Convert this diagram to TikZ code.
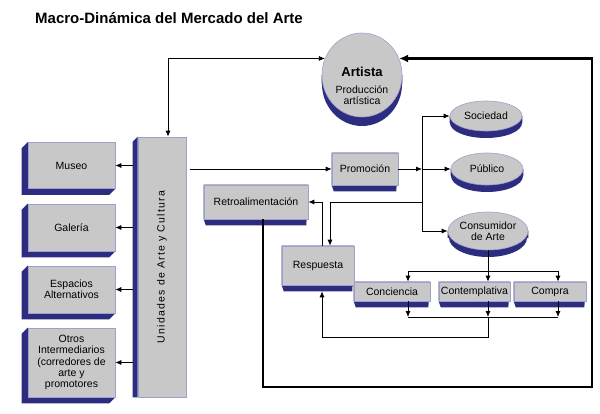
\documentclass[tikz,border=0pt]{standalone}
\usepackage{fontspec}
\setmainfont{Liberation Sans}
\usetikzlibrary{arrows.meta,shapes.geometric,calc}
\definecolor{boxgray}{RGB}{200,200,200}
\definecolor{boxline}{RGB}{160,160,205}
\definecolor{navy}{RGB}{44,44,128}
\pgfdeclarelayer{background}
\pgfsetlayers{background,main}

\begin{document}
\begin{tikzpicture}[
  x=1pt, y=-1pt,
  every node/.style={font=\fontsize{10.5}{11.3}\selectfont, align=center, inner sep=0pt},
  box/.style={rectangle, fill=boxgray, draw=boxline, line width=0.6pt},
  oval/.style={ellipse, fill=boxgray, draw=boxline, line width=0.6pt},
  conn/.style={draw, line width=0.8pt, -{Latex[length=6pt,width=5pt]}},
  back/.style={draw, line width=2.6pt, -{Latex[length=9pt,width=8pt]}} % lazo grueso
]
\useasboundingbox (0,0) rectangle (600,414);

\node[anchor=west, font=\fontsize{15}{17}\selectfont\bfseries] (title) at (35,18) {Macro-Dinámica del Mercado del Arte};

% ovalos
\node[oval, minimum width=80, minimum height=84] (artista) at (362,75) {};
\node (artistatxt) at (362,86) {{\fontsize{13}{14}\selectfont\bfseries Artista}\\[5pt]Producción\\artística};
\node[oval, minimum width=72, minimum height=30] (sociedad) at (486,116) {Sociedad};
\node[oval, minimum width=72, minimum height=32] (publico) at (487,169) {Público};
\node[oval, minimum width=78, minimum height=38] (consumidor) at (488,231) {Consumidor\\de Arte};

% columna izquierda
\node[box, minimum width=87, minimum height=46] (museo) at (71.5,165.5) {Museo};
\node[box, minimum width=87, minimum height=47] (galeria) at (71.5,227.5) {Galería};
\node[box, minimum width=87, minimum height=47] (espacios) at (71.5,289.5) {Espacios\\Alternativos};
\node[box, minimum width=87, minimum height=69] (otros) at (71.5,362.5) {Otros\\Intermediarios\\(corredores de\\arte y\\promotores};
\node[box, minimum width=48, minimum height=260] (unidades) at (162,267) {};
\node[rotate=90] (unidadestxt) at (unidades.center) {\addfontfeatures{LetterSpace=12}Unidades de Arte y Cultura};

% cajas centrales
\node[box, minimum width=66, minimum height=32] (promocion) at (365,169) {Promoción};
\node[box, minimum width=104, minimum height=34] (retro) at (256,202) {Retroalimentación};
\node[box, minimum width=72, minimum height=39] (respuesta) at (318,265.5) {Respuesta};
\node[box, minimum width=76, minimum height=19] (conciencia) at (392,291.5) {Conciencia};
\node[box, minimum width=71, minimum height=19] (contemplativa) at (474.5,291.5) {Contemplativa};
\node[box, minimum width=72, minimum height=19] (compra) at (550,291.5) {Compra};

\coordinate (split) at (422,169);
\coordinate (topbus) at (488,271);
\coordinate (lowbus) at (488,317);
\coordinate (retcorner) at (488,337);
\coordinate (fbcorner) at (592,387);

% conectores
\draw[conn, {Latex[length=6pt,width=5pt]}-{Latex[length=6pt,width=5pt]}] (artista.156) -| ([xshift=6pt]unidades.north);
\draw[back] ([xshift=7pt]retro.south) |- (fbcorner) |- (artista.24);
\foreach \n in {museo,galeria,espacios,otros}
  \draw[conn] ([xshift=-5pt]unidades.west |- \n.east) -- (\n.east);
\draw[conn] ([xshift=4pt]unidades.east |- promocion.west) -- (promocion.west);
\draw[conn] (promocion.east) -- (split);
\draw[conn] (split) -- (publico.west);
\draw[conn] (split) |- (sociedad.west);
\draw[conn] (split) |- (consumidor.west);
\draw[conn] (split |- retro.east) -| ([xshift=12pt]respuesta.north);
\draw[conn] ([xshift=4pt]respuesta.north) |- (retro.east);

\draw[conn] (consumidor.south) -- ([xshift=13.5pt]contemplativa.north);
\draw[conn] (topbus) -| ([xshift=16pt]conciencia.north);
\draw[conn] (topbus) -| ([xshift=8pt]compra.north);

\draw[conn] ([xshift=16pt]conciencia.south) -- ([xshift=16pt]conciencia.south |- lowbus);
\draw[conn] ([xshift=8pt]compra.south) -- ([xshift=8pt]compra.south |- lowbus);
\draw[conn] ([xshift=13.5pt]contemplativa.south) -- (lowbus);
\draw[line width=0.8pt] ([xshift=16pt]conciencia.south |- lowbus) -- ([xshift=8pt]compra.south |- lowbus);
\draw[conn] (lowbus) -- (retcorner) -| ([shift={(4pt,-6pt)}]respuesta.south);

% relieve
\begin{pgfonlayer}{background}
  \foreach \n in {museo,galeria,espacios,otros}
    \fill[navy] (\n.north west) -- ++(-6,6) |- ([shift={(-6pt,-6pt)}]\n.south east) -- (\n.south east) -- cycle;
  \fill[navy] (unidades.north west) -- ++(-5,5) -- ([xshift=-5pt]unidades.south west) -- (unidades.south west) -- cycle;
  \foreach \n in {promocion,retro,respuesta,conciencia,contemplativa,compra}
    \fill[navy] (\n.north west) -- (\n.south west) -- ++(2,6) -- ([shift={(-2pt,-6pt)}]\n.south east) -- (\n.north east) -- cycle;
  \foreach \n/\rx/\ry/\sh in {artista/40/42/9,sociedad/36/15/7,publico/36/16/7,consumidor/39/19/7}
    \fill[navy] ([yshift=-\sh pt]\n.center) ellipse [x radius=\rx pt, y radius=\ry pt] (\n.west) rectangle ([yshift=-\sh pt]\n.east);
\end{pgfonlayer}
\end{tikzpicture}
\end{document}
